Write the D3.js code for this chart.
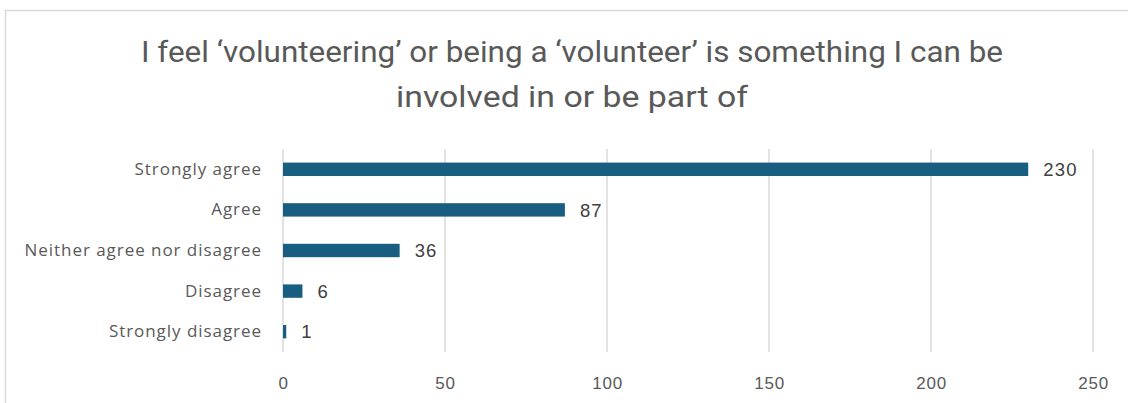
<!DOCTYPE html>
<html>
<head>
<meta charset="utf-8">
<script src="https://cdn.jsdelivr.net/npm/d3@7"></script>
<style>
  html, body { margin: 0; padding: 0; background: #fff; }
  svg { display: block; }
</style>
</head>
<body>
<svg id="chart" width="1128" height="403"></svg>
<script>
const titleLines = ["I feel \u2018volunteering\u2019 or being a \u2018volunteer\u2019 is something I can be", "involved in or be part of"];
const categories = ["Strongly agree", "Agree", "Neither agree nor disagree", "Disagree", "Strongly disagree"];
const counts = [230, 87, 36, 6, 1];
const xTicks = [0, 50, 100, 150, 200, 250];

const svg = d3.select("#chart");
const W = 1128, H = 403;
const margin = { left: 283, right: 35, top: 149, bottom: 51 };

// chart frame
svg.append("rect")
  .attr("x", 5.5).attr("y", 10.5)
  .attr("width", W + 20).attr("height", H + 20)
  .attr("fill", "#fff").attr("stroke", "#d9d9d9").attr("stroke-width", 1.5);

// title
svg.append("g").selectAll("text").data(titleLines).join("text")
  .attr("x", 572).attr("y", (d, i) => 62 + i * 45)
  .attr("text-anchor", "middle")
  .attr("font-family", "'Liberation Sans Narrow', Roboto, sans-serif")
  .attr("font-size", 29)
  .attr("fill", "#595959")
  .attr("textLength", (d, i) => i === 0 ? 862 : 352)
  .attr("lengthAdjust", "spacingAndGlyphs")
  .text(d => d);

const x = d3.scaleLinear().domain([0, 250]).range([margin.left, W - margin.right]);
const y = d3.scaleBand().domain(categories).range([margin.top, H - margin.bottom]).paddingInner(0.67).paddingOuter(0.335);

// gridlines
svg.append("g").selectAll("line").data(xTicks).join("line")
  .attr("x1", d => x(d)).attr("x2", d => x(d))
  .attr("y1", margin.top).attr("y2", H - margin.bottom)
  .attr("stroke", "#d9d9d9").attr("stroke-width", 1.5);

// x axis labels
const xAxis = d3.axisBottom(x).tickSize(0).tickPadding(0).tickValues(xTicks);
const gx = svg.append("g").attr("transform", `translate(0,${H - margin.bottom + 25})`).call(xAxis);
gx.select(".domain").remove();
gx.selectAll("text")
  .attr("font-family", "'Liberation Sans', Arial, sans-serif")
  .attr("font-size", 17).attr("fill", "#595959")
  .attr("letter-spacing", "0.8px")
  .attr("dy", "0.71em");

// y axis labels
const yAxis = d3.axisLeft(y).tickSize(0).tickPadding(21);
const gy = svg.append("g").attr("transform", `translate(${margin.left},0)`).call(yAxis);
gy.select(".domain").remove();
gy.selectAll("text")
  .attr("font-family", "'Open Sans', sans-serif")
  .attr("font-size", 17).attr("fill", "#595959")
  .attr("letter-spacing", "0.95px");

// bars
svg.append("g").selectAll("rect").data(counts).join("rect")
  .attr("x", x(0))
  .attr("y", (d, i) => y(categories[i]))
  .attr("width", d => x(d) - x(0))
  .attr("height", y.bandwidth())
  .attr("fill", "#185e80");

// value labels
svg.append("g").selectAll("text").data(counts).join("text")
  .attr("x", d => x(d) + 15)
  .attr("y", (d, i) => y(categories[i]) + y.bandwidth() / 2)
  .attr("dy", "0.36em")
  .attr("font-family", "'Liberation Sans', Arial, sans-serif")
  .attr("font-size", 18.5).attr("fill", "#404040")
  .attr("letter-spacing", "1.2px")
  .text(d => d);
</script>
</body>
</html>
